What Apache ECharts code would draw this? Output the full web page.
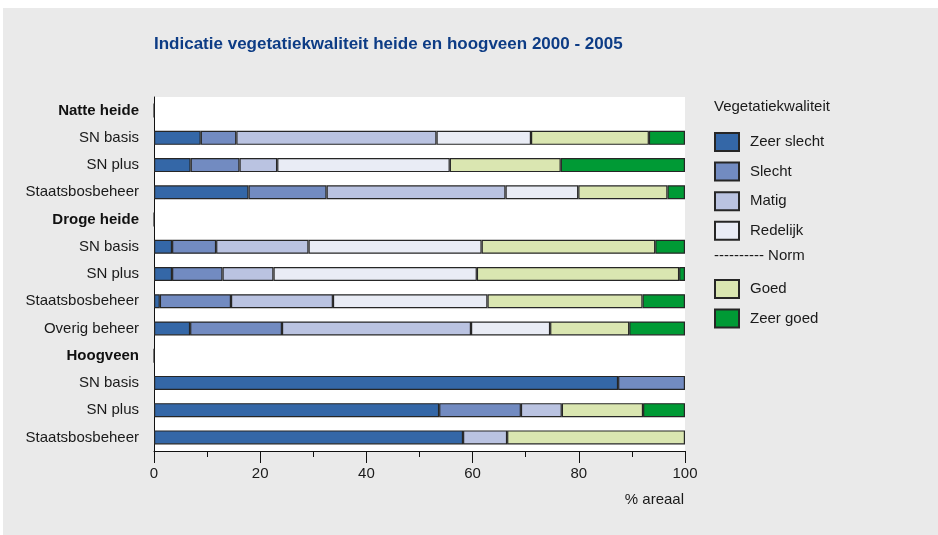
<!DOCTYPE html>
<html>
<head>
<meta charset="utf-8">
<script src="https://cdn.jsdelivr.net/npm/echarts@6/dist/echarts.min.js"></script>
<style>
html,body{margin:0;padding:0;background:#fff;}
#bg{position:absolute;left:3px;top:8px;width:935px;height:527px;background:#eaeaea;}
#chart{position:absolute;left:0;top:0;width:938px;height:535px;}
</style>
</head>
<body>
<div id="bg"></div>
<div id="chart"></div>
<script>
var categories = ['Natte heide','SN basis','SN plus','Staatsbosbeheer','Droge heide','SN basis ','SN plus ','Staatsbosbeheer ','Overig beheer','Hoogveen','SN basis  ','SN plus  ','Staatsbosbeheer  '];
var headers = ['Natte heide','Droge heide','Hoogveen'];
var seriesNames = ['Zeer slecht','Slecht','Matig','Redelijk','Goed','Zeer goed'];
var zeerSlecht = [0, 8.8, 6.9, 17.8, 0, 3.4, 3.4, 1.1, 6.8, 0, 87.4, 53.7, 58.2];
var slecht     = [null, 6.7, 9.2, 14.7, null, 8.3, 9.5, 13.4, 17.3, null, 12.6, 15.4, null];
var matig      = [null, 37.7, 7.1, 33.7, null, 17.4, 9.6, 19.2, 35.6, null, null, 7.7, 8.3];
var redelijk   = [null, 17.8, 32.5, 13.7, null, 32.6, 38.3, 29.1, 14.9, null, null, null, null];
var goed       = [null, 22.2, 20.9, 16.8, null, 32.7, 38.1, 29.2, 14.9, null, null, 15.3, 33.5];
var zeerGoed   = [null, 6.8, 23.4, 3.3, null, 5.6, 1.1, 8.0, 10.5, null, null, 7.9, null];
var xTicks = [0, 20, 40, 60, 80, 100];

var values = [zeerSlecht, slecht, matig, redelijk, goed, zeerGoed];
var colors = ['#3467a7', '#728bc1', '#bac3e1', '#e9ecf5', '#dae6b1', '#009a35'];
var font = 'Liberation Sans, Arial, sans-serif';

var chart = echarts.init(document.getElementById('chart'), null, {renderer: 'canvas'});
var series = seriesNames.map(function (n, i) {
  return {
    name: n, type: 'bar', stack: 'total', barWidth: 14,
    data: values[i],
    itemStyle: {color: colors[i], borderColor: '#262626', borderWidth: 1.2},
    emphasis: {disabled: true}
  };
});

var legendBase = {
  orient: 'vertical', left: 714, padding: 0,
  itemWidth: 24, itemHeight: 18, itemGap: 9.6, selectedMode: false, icon: 'rect',
  textStyle: {fontSize: 15, color: '#1a1a1a', padding: [0, 0, 0, 6], fontFamily: font}
};

chart.setOption({
  animation: false,
  backgroundColor: 'transparent',
  textStyle: {fontFamily: font},
  grid: {left: 154, right: 253, top: 97, bottom: 84, show: true, backgroundColor: '#ffffff', borderWidth: 0},
  xAxis: {
    type: 'value', min: xTicks[0], max: xTicks[xTicks.length - 1], interval: 20,
    axisLine: {show: true, lineStyle: {color: '#111', width: 1}},
    axisTick: {show: true, length: 12, lineStyle: {color: '#111'}},
    minorTick: {show: true, splitNumber: 2, length: 6, lineStyle: {color: '#111'}},
    splitLine: {show: false},
    axisLabel: {fontSize: 15, color: '#1a1a1a', margin: 15, fontFamily: font}
  },
  yAxis: {
    type: 'category', inverse: true, data: categories,
    axisLine: {show: true, lineStyle: {color: '#111', width: 1}},
    axisTick: {show: false},
    axisLabel: {
      fontSize: 15, color: '#1a1a1a', margin: 15, fontFamily: font,
      formatter: function (v) {
        var t = v.trim();
        return headers.indexOf(t) >= 0 ? '{b|' + t + '}' : t;
      },
      rich: {b: {fontWeight: 'bold', fontSize: 15, color: '#111', fontFamily: font}}
    }
  },
  legend: [
    Object.assign({}, legendBase, {data: seriesNames.slice(0, 4), top: 132}),
    Object.assign({}, legendBase, {data: seriesNames.slice(4), top: 279})
  ],
  graphic: [
    {type: 'text', left: 154, top: 36, style: {text: 'Indicatie vegetatiekwaliteit heide en hoogveen 2000 - 2005', fontSize: 17, fontWeight: 'bold', fill: '#0d3c85', fontFamily: font}},
    {type: 'text', left: 714, top: 99, style: {text: 'Vegetatiekwaliteit', fontSize: 15, fill: '#1a1a1a', fontFamily: font}},
    {type: 'text', left: 714, top: 248, style: {text: '---------- Norm', fontSize: 15, fill: '#1a1a1a', fontFamily: font}},
    {type: 'text', right: 254, top: 492, style: {text: '% areaal', fontSize: 15, fill: '#1a1a1a', fontFamily: font}}
  ],
  series: series
});
</script>
</body>
</html>
